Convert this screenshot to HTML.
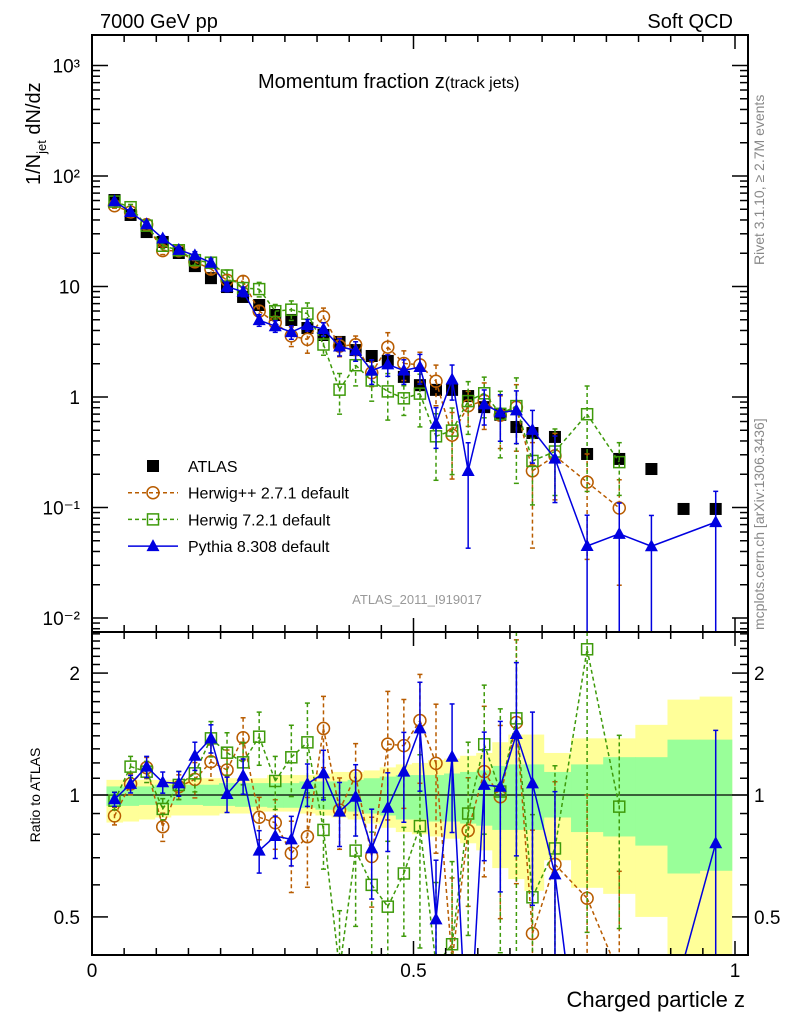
<!DOCTYPE html>
<html><head><meta charset="utf-8">
<style>
html,body{margin:0;padding:0;background:#fff;overflow:hidden;width:786px;height:1024px;}
svg{display:block;font-family:"Liberation Sans",Arial,sans-serif;}
</style></head>
<body>
<svg id="chart" width="786" height="1024" viewBox="0 0 786 1024">
<defs>
<clipPath id="clipMain"><rect x="92" y="35" width="656" height="597"/></clipPath>
<clipPath id="clipRatio"><rect x="92" y="632" width="656" height="323"/></clipPath>
</defs>
<g id="bands" clip-path="url(#clipRatio)"></g>
<line x1="92" y1="795" x2="748" y2="795" stroke="#000" stroke-width="1.3"/>
<g id="series"></g>
<g id="axes"></g>
<text x="100" y="28" font-size="20">7000 GeV pp</text>
<text x="733" y="28" font-size="20" text-anchor="end">Soft QCD</text>
<text x="258" y="88" font-size="20">Momentum fraction <tspan font-size="20">z</tspan><tspan font-size="16">(track jets)</tspan></text>
<text transform="translate(40,185) rotate(-90)" font-size="20">1/N<tspan font-size="13" dy="6">jet</tspan><tspan dy="-6"> dN/dz</tspan></text>
<text transform="translate(764,265) rotate(-90)" font-size="14" fill="#888">Rivet 3.1.10, ≥ 2.7M events</text>
<text transform="translate(764,630) rotate(-90)" font-size="14" fill="#888">mcplots.cern.ch [arXiv:1306.3436]</text>
<text x="417" y="604" font-size="13" fill="#999" text-anchor="middle">ATLAS_2011_I919017</text>
<text transform="translate(40,795) rotate(-90)" font-size="14" text-anchor="middle">Ratio to ATLAS</text>
<text x="745" y="1007" font-size="22" text-anchor="end">Charged particle z</text>
<g id="legend"></g>
</svg>
<script>
// ---- data ----
const zCenters = [0.035,0.06,0.085,0.11,0.135,0.16,0.185,0.21,0.235,0.26,0.285,0.31,0.335,0.36,0.385,0.41,0.435,0.46,0.485,0.51,0.535,0.56,0.585,0.61,0.635,0.66,0.685,0.72,0.77,0.82,0.87,0.92,0.97];
const atlasValues = [60.6,44.4,31.1,25.3,20.1,15.3,11.9,9.89,8.04,6.80,5.52,4.98,4.21,3.64,3.15,2.66,2.35,2.12,1.52,1.28,1.16,1.16,1.02,0.81,0.69,0.535,0.472,0.435,0.305,0.275,0.223,0.097,0.097];
const herwigppRatio = [0.888,1.065,1.168,0.835,1.048,1.093,1.208,1.153,1.385,0.881,0.854,0.718,0.789,1.46,0.918,1.116,0.705,1.335,1.324,1.527,1.197,0.39,0.817,1.142,0.99,1.51,0.455,0.674,0.556,0.36,null,null,null];
const herwig7Ratio = [0.968,1.175,1.142,0.924,1.059,1.131,1.38,1.272,1.204,1.393,1.083,1.239,1.349,0.82,0.37,0.729,0.60,0.53,0.64,0.838,0.38,0.428,0.9,1.334,1.02,1.546,0.559,0.738,2.29,0.936,null,null,null];
const pythiaRatio = [0.976,1.065,1.175,1.075,1.068,1.25,1.38,1.006,1.116,0.729,0.792,0.777,1.065,1.131,0.91,0.99,0.738,0.93,1.142,1.46,0.493,1.243,0.21,1.059,1.048,1.415,1.068,0.637,0.147,0.21,0.2,null,0.76];
const herwigppErr = [0.05,0.06,0.06,0.08,0.07,0.1,0.1,0.12,0.12,0.12,0.14,0.2,0.25,0.2,0.2,0.2,0.25,0.35,0.3,0.3,0.4,0.6,0.35,0.45,0.5,0.6,0.8,0.6,0.8,0.8,0,0,0];
const herwig7Err = [0.05,0.06,0.06,0.06,0.08,0.1,0.1,0.12,0.12,0.15,0.15,0.2,0.25,0.2,0.4,0.35,0.35,0.45,0.3,0.5,0.6,0.6,0.5,0.4,0.6,0.8,0.6,0.6,0.8,0.5,0,0,0];
const pythiaErr = [0.04,0.05,0.06,0.06,0.07,0.08,0.08,0.1,0.1,0.12,0.12,0.14,0.12,0.14,0.18,0.2,0.25,0.22,0.25,0.3,0.4,0.35,0.8,0.35,0.45,0.5,0.5,0.6,0.9,0.9,0.9,0,0.9];
const totalBandHi = [1.09,1.09,1.09,1.09,1.09,1.10,1.10,1.10,1.10,1.10,1.12,1.12,1.12,1.13,1.14,1.14,1.15,1.17,1.19,1.20,1.22,1.23,1.25,1.27,1.35,1.41,1.41,1.27,1.38,1.38,1.49,1.72,1.75];
const totalBandLo = [0.855,0.86,0.87,0.88,0.89,0.89,0.89,0.90,0.90,0.91,0.91,0.91,0.90,0.89,0.88,0.87,0.85,0.83,0.81,0.80,0.79,0.78,0.76,0.73,0.66,0.62,0.58,0.69,0.59,0.57,0.50,0.35,0.35];
const statBandHi = [1.05,1.05,1.05,1.06,1.06,1.06,1.06,1.07,1.07,1.07,1.07,1.07,1.08,1.08,1.08,1.09,1.10,1.11,1.12,1.12,1.12,1.13,1.14,1.15,1.18,1.19,1.19,1.14,1.19,1.24,1.24,1.37,1.37];
const statBandLo = [0.94,0.94,0.945,0.945,0.945,0.945,0.94,0.94,0.935,0.935,0.93,0.93,0.93,0.92,0.92,0.91,0.90,0.89,0.87,0.87,0.86,0.86,0.85,0.84,0.82,0.82,0.82,0.88,0.81,0.79,0.75,0.64,0.65];
const xTickLabels = ["0","0.5","1"];
const xTickValues = [0,0.5,1];
const mainTickExp = [3,2,1,0,-1,-2];
const mainTickLabels = ["10³","10²","10","1","10⁻¹","10⁻²"];
const ratioTickValues = [0.5,1,2];
const ratioTickLabels = ["0.5","1","2"];

// ---- axes functions ----
const NS="http://www.w3.org/2000/svg";
const X=z=>92+643*z;
const YM=v=>397-110.5*Math.log10(v);
const YR=r=>795-405*Math.log10(r);
function el(tag,attrs,parent){const e=document.createElementNS(NS,tag);for(const k in attrs)e.setAttribute(k,attrs[k]);parent.appendChild(e);return e;}

const edges=[];
for(let i=0;i<=zCenters.length;i++){
  if(i===0) edges.push(zCenters[0]-(zCenters[1]-zCenters[0])/2);
  else if(i===zCenters.length) edges.push(zCenters[i-1]+(zCenters[i-1]-zCenters[i-2])/2);
  else edges.push((zCenters[i-1]+zCenters[i])/2);
}
const clampY=(y,lo,hi)=>Math.max(lo,Math.min(hi,y));
const bands=document.getElementById('bands');
for(let i=0;i<zCenters.length;i++){
  const x0=X(edges[i]),x1=Math.min(X(edges[i+1]),748);
  const yt=clampY(YR(totalBandHi[i]),632,955), yb=clampY(YR(totalBandLo[i]),632,955);
  const ry=el('rect',{x:x0,y:yt,width:x1-x0+0.5,height:yb-yt,fill:'#ffff99'},bands);
  
  
}
for(let i=0;i<zCenters.length;i++){
  const x0=X(edges[i]),x1=Math.min(X(edges[i+1]),748);
  const yt=clampY(YR(statBandHi[i]),632,955), yb=clampY(YR(statBandLo[i]),632,955);
  const rg=el('rect',{x:x0,y:yt,width:x1-x0+0.5,height:yb-yt,fill:'#99ff99'},bands);
  
  
}

const series=document.getElementById('series');
const gMain=el('g',{'clip-path':'url(#clipMain)'},series);


const gRatio=el('g',{'clip-path':'url(#clipRatio)'},series);



function marker(kind,x,y,color,g){
  let m;
  if(kind==='circle') m=el('circle',{cx:x,cy:y,r:6,fill:'none',stroke:color,'stroke-width':1.5},g);
  else if(kind==='square') m=el('rect',{x:x-5.5,y:y-5.5,width:11,height:11,fill:'none',stroke:color,'stroke-width':1.5},g);
  else if(kind==='tri') m=el('polygon',{points:`${x},${y-7} ${x-6.5},${y+5} ${x+6.5},${y+5}`,fill:color},g);
  else m=el('rect',{x:x-6,y:y-6,width:12,height:12,fill:color},g);
  return m;
}

// clip segment to horizontal band [top,bot]
function clipSeg(x1,y1,x2,y2,top,bot){
  let t0=0,t1=1;const dy=y2-y1;
  if(dy===0){ if(y1<top||y1>bot) return null; }
  else{
    let ta=(top-y1)/dy, tb=(bot-y1)/dy;
    if(ta>tb){const t=ta;ta=tb;tb=t;}
    t0=Math.max(t0,ta);t1=Math.min(t1,tb);
    if(t0>=t1) return null;
  }
  return [x1+(x2-x1)*t0,y1+dy*t0,x1+(x2-x1)*t1,y1+dy*t1];
}

function drawSeries(name,ratios,errs,color,kind,dash){
  [['main',gMain,YM,true,35,632],['ratio',gRatio,YR,false,632,955]].forEach(([panel,g,Y,isMain,top,bot])=>{
    const grp=el('g',{},g);
    
    
    let pts=[];
    ratios.forEach((r,i)=>{ if(r===null) return; const v=isMain?atlasValues[i]*r:r; pts.push([X(zCenters[i]),Y(v),v,errs[i]]); });
    for(let k=0;k+1<pts.length;k++){
      const s=clipSeg(pts[k][0],pts[k][1],pts[k+1][0],pts[k+1][1],top,bot);
      if(!s) continue;
      const ln=el('line',{x1:s[0],y1:s[1],x2:s[2],y2:s[3],stroke:color,'stroke-width':1.5,'stroke-dasharray':dash},grp);
      
      
    }
    pts.forEach(p=>{
      if(p[3]>0){
        const hi=p[2]*(1+p[3]); const lo=p[2]*(1-p[3]);
        const y1=clampY(Y(hi),top,bot), y2=lo>0?clampY(Y(lo),top,bot):bot;
        if(y2>y1){
          const eb=el('line',{x1:p[0],x2:p[0],y1:y1,y2:y2,stroke:color,'stroke-width':1.5,'stroke-dasharray':dash},grp);
          
          
          el('line',{x1:p[0]-2.5,x2:p[0]+2.5,y1:y1,y2:y1,stroke:color,'stroke-width':1.5},grp);
          if(lo>0) el('line',{x1:p[0]-2.5,x2:p[0]+2.5,y1:y2,y2:y2,stroke:color,'stroke-width':1.5},grp);
        }
      }
      if(p[1]>bot+8||p[1]<top-8) return;
      const m=marker(kind,p[0],p[1],color,grp);
      
      
    });
  });
}

const gAtlas=el('g',{},gMain);


atlasValues.forEach((v,i)=>{
  const m=marker('fill',X(zCenters[i]),YM(v),'#000',gAtlas);
  
  
});
drawSeries('herwigpp',herwigppRatio,herwigppErr,'#b85c00','circle','4,3');
drawSeries('herwig7',herwig7Ratio,herwig7Err,'#3e9a0a','square','4,3');
drawSeries('pythia',pythiaRatio,pythiaErr,'#0000e0','tri','');

// ---- axes ----
const axes=document.getElementById('axes');
const fm=el('rect',{x:92,y:35,width:656,height:597,fill:'none',stroke:'#000','stroke-width':2},axes);


const fr=el('rect',{x:92,y:632,width:656,height:323,fill:'none',stroke:'#000','stroke-width':2},axes);


function tk(x1,y1,x2,y2){el('line',{x1,y1,x2,y2,stroke:'#000','stroke-width':1.5},axes);}
for(let k=0;k<=20;k++){
  const z=k*0.05, x=X(z), major=(k%10===0), L=major?14:7;
  [[35,1],[632,-1],[632,1],[955,-1]].forEach(([y,d])=>tk(x,y,x,y+d*L));
}
xTickValues.forEach((v,i)=>{
  const t=el('text',{x:X(v),y:977,'font-size':19,'text-anchor':'middle'},axes);
  t.textContent=xTickLabels[i];
  
  
});
for(let e=-3;e<=3;e++){
  for(let m=1;m<10;m++){
    const v=m*Math.pow(10,e); const y=YM(v);
    if(y<35||y>632) continue;
    const L=m===1?16:8;
    tk(92,y,92+L,y); tk(748,y,748-L,y);
  }
}
mainTickExp.forEach((e,i)=>{
  const t=el('text',{x:80,y:YM(Math.pow(10,e))+7,'font-size':19,'text-anchor':'end'},axes);
  t.textContent=mainTickLabels[i];
  
  
});
for(let r=0.4;r<=2.55;r+=0.1){
  const rr=Math.round(r*10)/10; const y=YR(rr);
  if(y<632||y>955) continue;
  const major=(rr===0.5||rr===1||rr===2); const L=major?16:8;
  tk(92,y,92+L,y); tk(748,y,748-L,y);
}
ratioTickValues.forEach((v,i)=>{
  const t=el('text',{x:80,y:YR(v)+7,'font-size':19,'text-anchor':'end'},axes);
  t.textContent=ratioTickLabels[i];
  
  
  const t2=el('text',{x:754,y:YR(v)+7,'font-size':19},axes);
  t2.textContent=ratioTickLabels[i];
  
  
});

const lg=document.getElementById('legend');
const entries=[['ATLAS','#000','fill',''],['Herwig++ 2.7.1 default','#b85c00','circle','4,3'],['Herwig 7.2.1 default','#3e9a0a','square','4,3'],['Pythia 8.308 default','#0000e0','tri','']];
entries.forEach((en,i)=>{
  const y=466+i*26.7;
  const g=el('g',{},lg);
  
  
  if(i>0) el('line',{x1:128,x2:178,y1:y,y2:y,stroke:en[1],'stroke-width':1.5,'stroke-dasharray':en[3]},g);
  marker(en[2],153,y,en[1],g);
  const t=el('text',{x:188,y:y+6,'font-size':16},g);
  t.textContent=en[0];
});
</script>
</body></html>
